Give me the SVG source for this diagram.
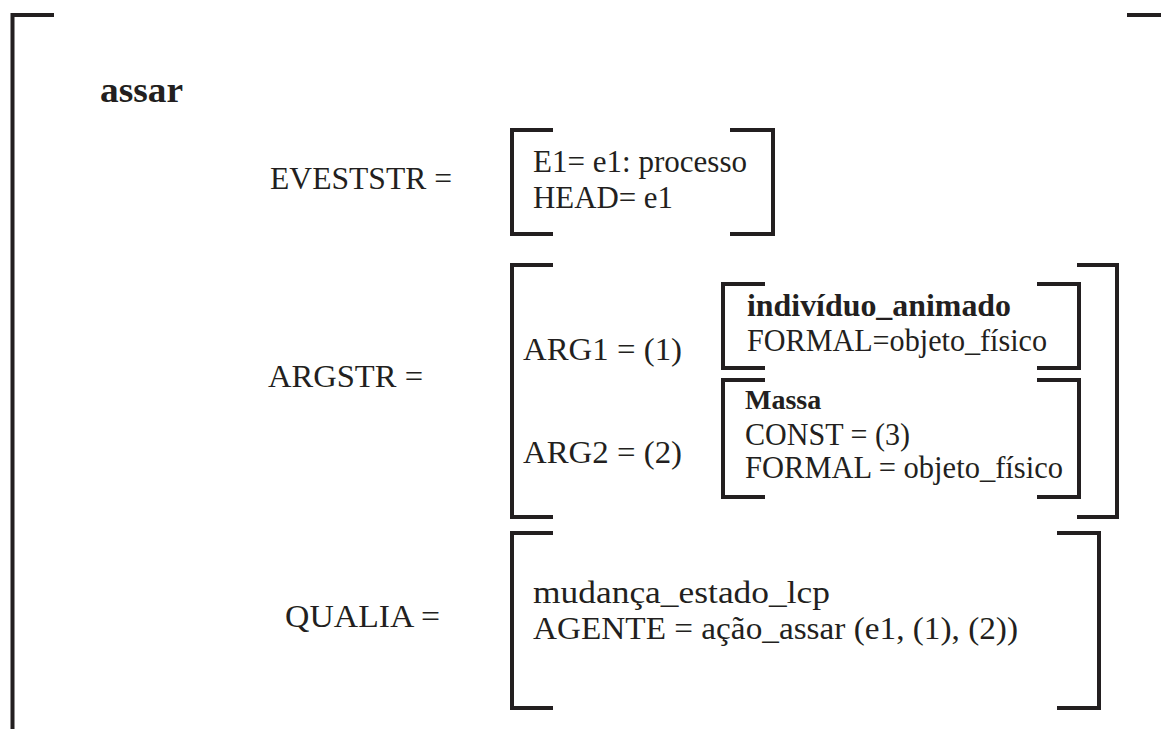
<svg xmlns="http://www.w3.org/2000/svg" width="1161" height="729" viewBox="0 0 1161 729">
  <style>
    .br { fill: none; stroke: #231f20; stroke-width: 4; stroke-linejoin: miter; stroke-linecap: butt; }
    text { font-family: "Liberation Serif", "DejaVu Serif", serif; fill: #231f20; }
    .lbl { font-size: 32px; }
    .in { font-size: 31px; }
    .b { font-weight: bold; }
  </style>
  <rect width="1161" height="729" fill="#ffffff"/>

  <!-- outer frame -->
  <g id="outer">
    <path class="br" d="M54,15 H12.5 V729"/>
    <path class="br" d="M1127,15 H1161"/>
    <text class="b" x="100" y="102" font-size="36" textLength="83" lengthAdjust="spacingAndGlyphs">assar</text>
  </g>

  <!-- event structure -->
  <g id="eveststr">
    <text class="lbl" x="270" y="189" textLength="182" lengthAdjust="spacingAndGlyphs">EVESTSTR =</text>
    <path class="br" d="M553,130 H512 V234 H553"/>
    <path class="br" d="M730,130 H773 V234 H730"/>
    <text class="lbl" x="533" y="172" textLength="214" lengthAdjust="spacingAndGlyphs">E1= e1: processo</text>
    <text class="lbl" x="533" y="208" textLength="140" lengthAdjust="spacingAndGlyphs">HEAD= e1</text>
  </g>

  <!-- argument structure -->
  <g id="argstr">
    <text class="lbl" x="268" y="387" textLength="155" lengthAdjust="spacingAndGlyphs">ARGSTR =</text>
    <path class="br" d="M553,265 H512 V517 H553"/>
    <path class="br" d="M1077,265 H1117 V517 H1077"/>
    <text class="lbl" x="523" y="360" textLength="159" lengthAdjust="spacingAndGlyphs">ARG1 = (1)</text>
    <text class="lbl" x="523" y="463" textLength="159" lengthAdjust="spacingAndGlyphs">ARG2 = (2)</text>
  </g>

  <g id="arg1">
    <path class="br" d="M765,284 H723 V368 H765"/>
    <path class="br" d="M1037,284 H1079 V368 H1037"/>
    <text class="in b" x="747" y="316" textLength="264" lengthAdjust="spacingAndGlyphs">indivíduo_animado</text>
    <text class="in" x="747" y="351" textLength="300" lengthAdjust="spacingAndGlyphs">FORMAL=objeto_físico</text>
  </g>

  <g id="arg2">
    <path class="br" d="M765,380 H723 V497 H765"/>
    <path class="br" d="M1037,380 H1079 V497 H1037"/>
    <text class="b" x="745" y="409" font-size="28">Massa</text>
    <text class="in" x="745" y="445" textLength="165" lengthAdjust="spacingAndGlyphs">CONST = (3)</text>
    <text class="in" x="745" y="478" textLength="318" lengthAdjust="spacingAndGlyphs">FORMAL = objeto_físico</text>
  </g>

  <!-- qualia structure -->
  <g id="qualia">
    <text class="lbl" x="285" y="627" textLength="155" lengthAdjust="spacingAndGlyphs">QUALIA =</text>
    <path class="br" d="M553,533 H512 V708 H553"/>
    <path class="br" d="M1057,533 H1099 V708 H1057"/>
    <text class="lbl" x="533" y="603" textLength="297" lengthAdjust="spacingAndGlyphs">mudança_estado_lcp</text>
    <text class="lbl" x="533" y="639" textLength="485" lengthAdjust="spacingAndGlyphs">AGENTE = ação_assar (e1, (1), (2))</text>
  </g>

  <g id="connectors"></g>
</svg>
